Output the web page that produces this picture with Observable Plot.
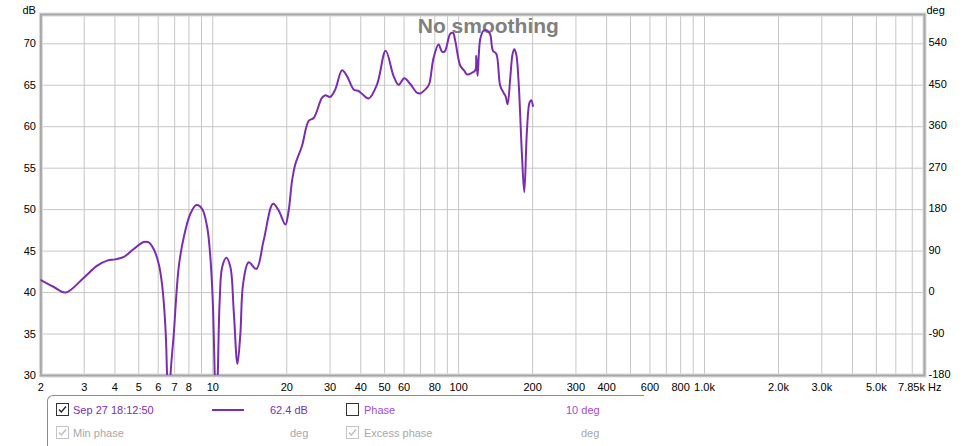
<!DOCTYPE html>
<html><head><meta charset="utf-8">
<script src="https://cdn.jsdelivr.net/npm/d3@7"></script>
<script src="https://cdn.jsdelivr.net/npm/@observablehq/plot@0.6"></script>
<style>
body{margin:0;background:#fff;font-family:"Liberation Sans",Arial,sans-serif;}
#wrap{position:relative;width:975px;height:446px;overflow:hidden;}
#wrap svg{display:block;}
#legend{position:absolute;left:47px;top:395px;width:596px;height:70px;border-top:1px solid #8c8c8c;border-left:1px solid #8c8c8c;border-top-left-radius:6px;font-size:11px;}
#legend .t{position:absolute;white-space:nowrap;line-height:13px;}
#legend .cb{position:absolute;width:11px;height:11px;border:1px solid #333;background:#fff;}
#legend .cb.g{border-color:#c4c4c4;}
#legend .cb svg{position:absolute;left:0;top:0;}
</style></head><body><div id="wrap"></div>
<script>
// Frequency response trace (Hz, dB)
const freq = [2.00,2.25,2.52,2.99,3.39,3.72,4.02,4.35,4.77,5.24,5.49,5.75,6.03,6.22,6.42,6.52,6.62,6.73,6.94,7.27,7.62,8.11,8.58,9.05,9.49,9.78,10.0,10.19,10.33,10.48,10.67,10.92,11.36,11.80,12.17,12.60,12.95,13.29,14.0,15.04,16.11,17.59,18.54,19.74,20.36,21.02,21.68,23.08,24.55,25.73,27.83,28.70,30.06,31.52,33.56,35.16,37.41,39.21,40.86,43.05,46.58,50.5,54.4,57.0,60.1,63.6,67.7,69.8,73.2,74.8,76.2,79.1,82.9,85.6,87.7,92.5,94.9,96.9,101.6,105.4,108.1,113.3,116.9,118.0,119.4,122.5,126.4,131.1,134.5,137.9,142.3,147.7,152.3,155.2,158.2,162.2,165.7,168.4,171.5,175.3,180.9,184.9,189.6,194.2,197.4,200.5];
const spl = [41.5,40.7,40.0,41.8,43.25,43.85,44.0,44.3,45.25,46.1,46.05,45.25,43.45,41.0,35.8,30.0,24.0,30.0,35.0,43.05,46.65,49.5,50.55,50.1,47.9,44.25,39.0,30.0,24.0,30.0,39.0,43.05,44.2,43.05,37.8,31.4,35.0,41.05,43.65,42.85,46.3,50.7,49.9,48.2,49.9,53.5,55.5,57.7,60.7,61.05,63.5,63.8,63.6,64.5,66.8,66.1,64.5,64.3,63.85,63.4,65.1,69.15,66.1,65.05,65.85,65.15,64.1,64.0,64.5,64.8,65.3,68.3,69.9,69.05,69.05,71.2,71.3,70.35,67.35,66.75,66.3,66.5,66.8,68.55,66.1,70.6,71.6,71.6,71.1,69.15,68.8,64.9,64.1,63.7,62.7,65.9,68.75,69.35,68.75,65.5,56.7,52.1,59.5,62.9,63.2,62.5];

const xGridTicks = [2,3,4,5,6,7,8,9,10,20,30,40,50,60,70,80,90,100,200,300,400,500,600,700,800,900,1000,2000,3000,4000,5000,6000,7000];
const xTickValues = [2,3,4,5,6,7,8,10,20,30,40,50,60,80,100,200,300,400,600,800,1000,2000,3000,5000];
const xTickText = ["2","3","4","5","6","7","8","10","20","30","40","50","60","80","100","200","300","400","600","800","1.0k","2.0k","3.0k","5.0k"];
const yTicks = [30,35,40,45,50,55,60,65,70];
const degLabels = ["-180","-90","0","90","180","270","360","450","540"];
const xDomain = [2, 7850];
const yDomain = [30, 73.53];

const data = freq.map((f, i) => ({f, db: spl[i]}));

const chart = Plot.plot({
  width: 975, height: 446,
  marginLeft: 40.4, marginRight: 51, marginTop: 14, marginBottom: 71,
  style: {fontFamily: '"Liberation Sans", Arial, sans-serif', fontSize: "11px", background: "#fff", color: "#000"},
  x: {type: "log", domain: xDomain, axis: null},
  y: {domain: yDomain, axis: null},
  marks: [
    Plot.gridX(xGridTicks, {stroke: "#c6c6c6", strokeOpacity: 1, strokeWidth: 1}),
    Plot.gridY(yTicks, {stroke: "#c6c6c6", strokeOpacity: 1, strokeWidth: 1}),
    Plot.frame({stroke: "#d8d8d8", strokeWidth: 4}),
    Plot.frame({stroke: "#a6a6a6", strokeWidth: 1.8}),
    Plot.text(["No smoothing"], {frameAnchor: "top", dx: 5.6, dy: 12, lineAnchor: "middle", fontSize: 21, fontWeight: "bold", fill: "#808080"}),
    Plot.line(data, {x: "f", y: "db", stroke: "#7b2db0", strokeWidth: 2, curve: "catmull-rom", clip: true}),
    Plot.text(xTickValues, {x: d => d, text: (d, i) => xTickText[i], frameAnchor: "bottom", dy: 15, fill: "#000"}),
    Plot.text(["7.85k Hz"], {x: () => xDomain[1], frameAnchor: "bottom", dy: 15, dx: 17, textAnchor: "end", fill: "#000"}),
    Plot.text(yTicks, {y: d => d, text: d => String(d), frameAnchor: "left", textAnchor: "end", dx: -5, fill: "#000"}),
    Plot.text(yTicks, {y: d => d, text: (d, i) => degLabels[i], frameAnchor: "right", textAnchor: "start", dx: 4, dy: -1, fill: "#000"}),
    Plot.text(["dB"], {frameAnchor: "top-left", textAnchor: "end", dx: -5, dy: -8, fill: "#000"}),
    Plot.text(["deg"], {frameAnchor: "top-right", textAnchor: "start", dx: 2, dy: -8, fill: "#000"})
  ]
});
const wrap = document.getElementById("wrap");
wrap.appendChild(chart);

// Legend panel
const legendSeries = "Sep 27 18:12:50";
const legendValue = "62.4 dB";
const legendPhase = "Phase";
const legendPhaseValue = "10 deg";
const check = (c) => `<svg width="11" height="11" viewBox="0 0 11 11"><path d="M2 5.5 L4.3 8 L9 2.5" fill="none" stroke="${c}" stroke-width="1.4"/></svg>`;
const lg = document.createElement("div");
lg.id = "legend";
lg.innerHTML = `
<div class="cb" style="left:8px;top:7px">${check("#222")}</div>
<div class="t" style="left:25px;top:8px;color:#7b2db0">${legendSeries}</div>
<div style="position:absolute;left:164px;top:13px;width:32px;height:2px;background:#7b2db0"></div>
<div class="t" style="left:222px;top:8px;color:#7b2db0">${legendValue}</div>
<div class="cb" style="left:298px;top:7px"></div>
<div class="t" style="left:316px;top:8px;color:#a24bd0">${legendPhase}</div>
<div class="t" style="left:518px;top:8px;color:#a24bd0">${legendPhaseValue}</div>
<div class="cb g" style="left:8px;top:30px">${check("#bdbdbd")}</div>
<div class="t" style="left:25px;top:31px;color:#a8a8a8">Min phase</div>
<div class="t" style="left:242px;top:31px;color:#a8a8a8">deg</div>
<div class="cb g" style="left:298px;top:30px">${check("#bdbdbd")}</div>
<div class="t" style="left:316px;top:31px;color:#a8a8a8">Excess phase</div>
<div class="t" style="left:533px;top:31px;color:#a8a8a8">deg</div>`;
wrap.appendChild(lg);
</script>
</body></html>
